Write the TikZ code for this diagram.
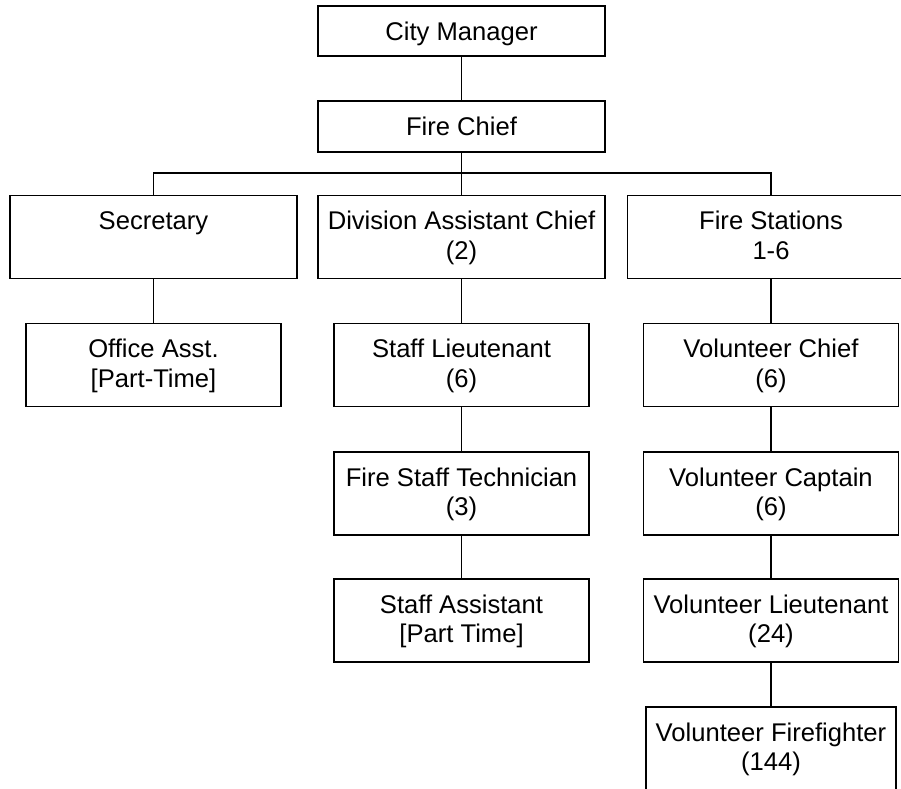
\documentclass[tikz,border=0pt]{standalone}
\usepackage{fontspec}
\setmainfont{Liberation Sans}

\tikzset{
	rolebox/.style={draw, line width=1.6pt, minimum width=255pt, minimum height=83pt, inner sep=0pt, align=center, text depth=4pt, font=\fontsize{25.6}{29.5}\selectfont},
	widebox/.style={rolebox, minimum width=287pt},
	headbox/.style={rolebox, minimum width=287pt, minimum height=50pt, text depth=0pt},
	link/.style={line width=1.6pt}
}

\begin{document}
\begin{tikzpicture}[x=1pt, y=-1pt]
			\clip (0,0) rectangle (901,788);
			
			\node[headbox] (cm) at (461.5,31) {City Manager};
			\node[headbox, minimum height=51pt] (fc) at (461.5,126.5) {Fire Chief};
			
			\node[widebox] (sec) at (153.5,237) {Secretary\\\mbox{}};
			\node[widebox] (div) at (461.5,237) {Division Assistant Chief\\(2)};
			\node[widebox] (fs) at (771,237) {Fire Stations\\1-6};
			
			\node[rolebox] (oa) at (153.5,365) {Office Asst.\\{[}Part-Time{]}};
			
			\node[rolebox] (sl) at (461.5,365) {Staff Lieutenant\\(6)};
			\node[rolebox] (fst) at (461.5,493.5) {Fire Staff Technician\\(3)};
			\node[rolebox] (sa) at (461.5,620.5) {Staff Assistant\\{[}Part Time{]}};
			
			\node[rolebox] (vc) at (771,365) {Volunteer Chief\\(6)};
			\node[rolebox] (vcap) at (771,493.5) {Volunteer Captain\\(6)};
			\node[rolebox] (vl) at (771,620.5) {Volunteer Lieutenant\\(24)};
			\node[rolebox, minimum width=250pt] (vf) at (771,748.5) {Volunteer Firefighter\\(144)};
			
			\draw[link] (cm) -- (fc);
			\draw[link] (fc) -- (div);
			\draw[link] (sec.north) -- ++(0,-22) -| (fs.north);
			
			\draw[link] (sec) -- (oa);
			\draw[link] (div) -- (sl);
			\draw[link] (sl) -- (fst);
			\draw[link] (fst) -- (sa);
			\draw[link] (fs) -- (vc);
			\draw[link] (vc) -- (vcap);
			\draw[link] (vcap) -- (vl);
			\draw[link] (vl) -- (vf);
			
		\end{tikzpicture}
\end{document}
